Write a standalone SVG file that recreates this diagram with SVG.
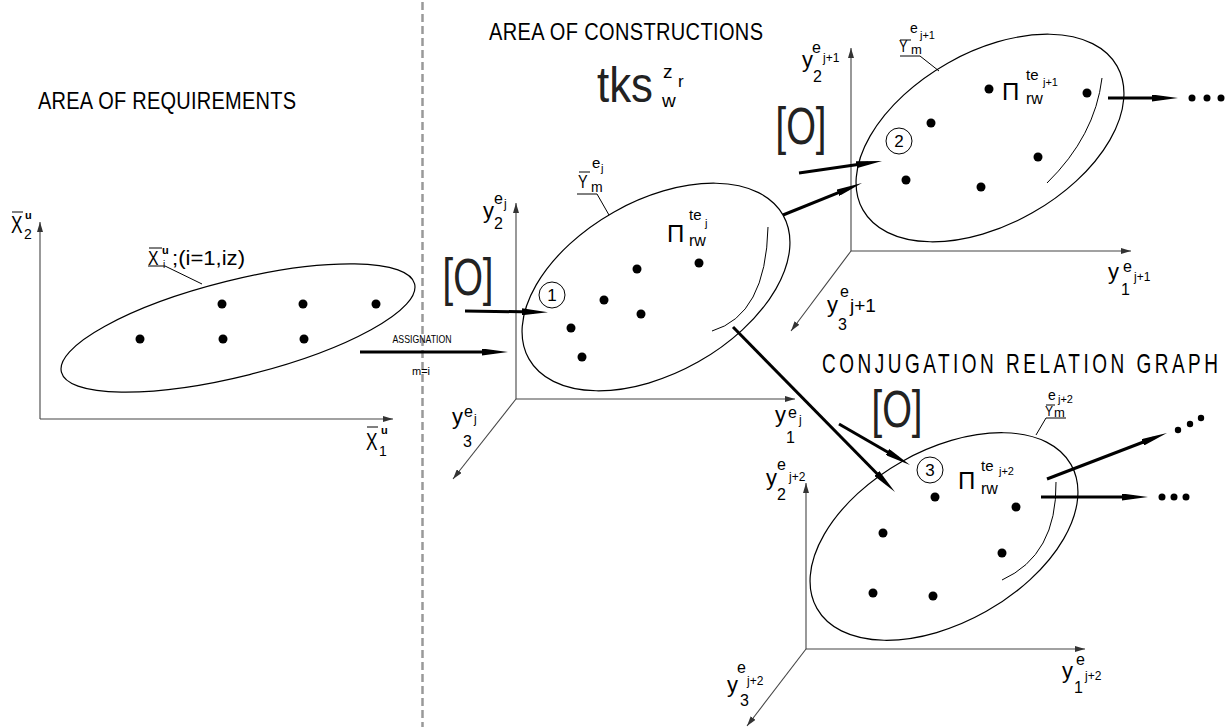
<svg xmlns="http://www.w3.org/2000/svg" width="1229" height="727" viewBox="0 0 1229 727">
<style>
.ax{stroke:#444;stroke-width:1.1;fill:none}
.el{stroke:#000;stroke-width:1.2;fill:none}
.ln{stroke:#000;stroke-width:1;fill:none}
.th{stroke:#000;stroke-width:3;fill:none}
.dot{fill:#000}
.t{font-family:"Liberation Sans",Arial,sans-serif;fill:#000}
.ol{font-family:"Liberation Sans",Arial,sans-serif;fill:#222}
.big{font-size:22px}
.sup{font-size:16px}
.sm{font-size:12px}
.ttl{font-size:20px}
</style>
<defs>
<marker id="ah" viewBox="0 0 10 6" refX="10" refY="3" markerWidth="10" markerHeight="6" markerUnits="userSpaceOnUse" orient="auto"><path d="M0,0L10,3L0,6z" fill="#333"/></marker>
<marker id="bh" viewBox="0 0 26 7" refX="12" refY="3.5" markerWidth="26" markerHeight="7" markerUnits="userSpaceOnUse" orient="auto"><path d="M0,0L26,3.5L0,7z" fill="#000"/></marker>
</defs>
<rect width="1229" height="727" fill="#fff"/>
<line x1="422.5" y1="2" x2="422.5" y2="727" stroke="#999" stroke-width="2.5" stroke-dasharray="8,4"/>

<text class="t ttl" transform="translate(38,109) scale(1,1.22)" textLength="258" lengthAdjust="spacing">AREA OF REQUIREMENTS</text>
<text class="t ttl" transform="translate(489,40) scale(1,1.2)" textLength="274" lengthAdjust="spacing">AREA OF CONSTRUCTIONS</text>
<text class="t" transform="translate(822,373) scale(1,1.45)" font-size="19" textLength="396" lengthAdjust="spacing">CONJUGATION RELATION GRAPH</text>
<g id="tks">
<text class="ol" x="597" y="102" font-size="50" textLength="56" lengthAdjust="spacingAndGlyphs">tks</text>
<text class="t" x="663" y="78" font-size="19">z</text>
<text class="t" x="678" y="87" font-size="17">r</text>
<text class="t" x="662" y="107" font-size="19">w</text>
</g>

<g id="req">
<path class="ax" d="M40,419V222" marker-end="url(#ah)"/>
<path class="ax" d="M40,419H393" marker-end="url(#ah)"/>
<line class="ln" x1="12" y1="212" x2="23" y2="212"/>
<text class="t" transform="translate(11,233) scale(0.72,1)" font-size="24">X</text>
<text class="t" x="24" y="239" font-size="14">2</text>
<text class="t" x="25" y="219" font-size="11" font-weight="bold">u</text>
<line class="ln" x1="367" y1="427" x2="378" y2="427"/>
<text class="t" transform="translate(366,450) scale(0.72,1)" font-size="24">X</text>
<text class="t" x="379" y="456" font-size="14">1</text>
<text class="t" x="381" y="434" font-size="11" font-weight="bold">u</text>
<ellipse class="el" cx="238" cy="328" rx="182" ry="48" transform="rotate(-14 238 328)"/>
<circle class="dot" cx="222" cy="304" r="4.5"/><circle class="dot" cx="303" cy="304" r="4.5"/><circle class="dot" cx="376" cy="304" r="4.5"/>
<circle class="dot" cx="140" cy="339" r="4.5"/><circle class="dot" cx="223" cy="339" r="4.5"/><circle class="dot" cx="304" cy="339" r="4.5"/>
<line class="ln" x1="149" y1="248" x2="162" y2="248"/>
<text class="t" transform="translate(148,265) scale(0.75,1)" font-size="21">X</text>
<text class="t" x="163" y="268" font-size="10">i</text>
<text class="t" x="162" y="254" font-size="11" font-weight="bold">u</text>
<text class="t" x="172" y="265" font-size="20" textLength="73" lengthAdjust="spacingAndGlyphs">;(i=1,iz)</text>
<path class="ln" d="M148,266H165L202,284"/>
</g>

<g id="sysj">
<path class="ax" d="M516,399V203" marker-end="url(#ah)"/>
<path class="ax" d="M516,399H795" marker-end="url(#ah)"/>
<path class="ax" d="M516,399L453,479" marker-end="url(#ah)"/>
<text class="t big" x="483" y="218">y</text><text class="t sup" x="494" y="204">e</text><text class="t sm" x="504" y="208">j</text><text class="t sup" x="494" y="229">2</text>
<text class="t big" x="775" y="422">y</text><text class="t sup" x="788" y="418">e</text><text class="t sm" x="799" y="424">j</text><text class="t sup" x="786" y="443">1</text>
<text class="t big" x="452" y="424">y</text><text class="t sup" x="464" y="417">e</text><text class="t sm" x="474" y="423">j</text><text class="t sup" x="463" y="447">3</text>
<ellipse class="el" cx="656" cy="287" rx="146" ry="86" transform="rotate(-29.5 656 287)"/>
<path class="ln" d="M768,227Q766,315 712,331"/>
<circle class="dot" cx="637" cy="269" r="4.5"/><circle class="dot" cx="699" cy="263" r="4.5"/><circle class="dot" cx="604" cy="300" r="4.5"/>
<circle class="dot" cx="641" cy="314" r="4.5"/><circle class="dot" cx="571" cy="328" r="4.5"/><circle class="dot" cx="582" cy="357" r="4.5"/>
<circle class="ln" cx="552" cy="295" r="13"/>
<text class="t" x="552" y="301" font-size="17" text-anchor="middle">1</text>
<text class="t" x="667" y="242" font-size="24">Π</text><text class="t" x="689" y="220" font-size="15">te</text><text class="t" x="705" y="227" font-size="11">j</text><text class="t" x="689" y="246" font-size="16">rw</text>
<line class="ln" x1="579" y1="172" x2="590" y2="172"/>
<text class="t" transform="translate(578,188) scale(0.8,1)" font-size="18">Y</text><text class="t" x="591" y="192" font-size="14">m</text><text class="t" x="592" y="168" font-size="15">e</text><text class="t" x="601" y="172" font-size="11">j</text>
<path class="ln" d="M577,194H597L609,215"/>
<text class="ol" x="468" y="295" font-size="52" text-anchor="middle" textLength="51" lengthAdjust="spacingAndGlyphs">[O]</text>
</g>

<g id="sysj1">
<path class="ax" d="M851,251V48" marker-end="url(#ah)"/>
<path class="ax" d="M851,251H1131" marker-end="url(#ah)"/>
<path class="ax" d="M851,251L791,331" marker-end="url(#ah)"/>
<text class="t big" x="802" y="67">y</text><text class="t sup" x="812" y="53">e</text><text class="t sm" x="823" y="62">j+1</text><text class="t sup" x="813" y="82">2</text>
<text class="t big" x="1108" y="279">y</text><text class="t sup" x="1123" y="272">e</text><text class="t sm" x="1134" y="281">j+1</text><text class="t sup" x="1121" y="295">1</text>
<text class="t big" x="827" y="312">y</text><text class="t sup" x="840" y="297">e</text><text class="t" x="850" y="312" font-size="19">j+1</text><text class="t sup" x="838" y="330">3</text>
<ellipse class="el" cx="990" cy="138" rx="146" ry="86" transform="rotate(-29.5 990 138)"/>
<path class="ln" d="M1102,78Q1095,136 1047,183"/>
<circle class="dot" cx="989" cy="89" r="4.5"/><circle class="dot" cx="1087" cy="93" r="4.5"/><circle class="dot" cx="931" cy="123" r="4.5"/>
<circle class="dot" cx="1038" cy="157" r="4.5"/><circle class="dot" cx="906" cy="180" r="4.5"/><circle class="dot" cx="981" cy="187" r="4.5"/>
<circle class="ln" cx="899" cy="141" r="13"/>
<text class="t" x="899" y="147" font-size="17" text-anchor="middle">2</text>
<text class="t" x="1002" y="100" font-size="24">Π</text><text class="t" x="1026" y="80" font-size="15">te</text><text class="t" x="1043" y="86" font-size="11">j+1</text><text class="t" x="1026" y="104" font-size="16">rw</text>
<line class="ln" x1="900" y1="40" x2="911" y2="40"/>
<text class="t" transform="translate(899,52) scale(0.8,1)" font-size="16">Y</text><text class="t" x="911" y="54" font-size="13">m</text><text class="t" x="910" y="33" font-size="14">e</text><text class="t" x="920" y="39" font-size="11">j+1</text>
<path class="ln" d="M900,56H920L939,71"/>
<text class="ol" x="801" y="144" font-size="52" text-anchor="middle" textLength="51" lengthAdjust="spacingAndGlyphs">[O]</text>
<circle class="dot" cx="1192" cy="98" r="3.5"/><circle class="dot" cx="1207" cy="98" r="3.5"/><circle class="dot" cx="1221" cy="98" r="3.5"/>
</g>

<g id="sysj2">
<path class="ax" d="M806,649V483" marker-end="url(#ah)"/>
<path class="ax" d="M806,649H1085" marker-end="url(#ah)"/>
<path class="ax" d="M806,649L747,726" marker-end="url(#ah)"/>
<text class="t big" x="766" y="485">y</text><text class="t sup" x="777" y="470">e</text><text class="t sm" x="789" y="481">j+2</text><text class="t sup" x="777" y="500">2</text>
<text class="t big" x="1062" y="678">y</text><text class="t sup" x="1076" y="665">e</text><text class="t sm" x="1085" y="680">j+2</text><text class="t sup" x="1074" y="693">1</text>
<text class="t big" x="727" y="692">y</text><text class="t sup" x="737" y="673">e</text><text class="t sm" x="747" y="685">j+2</text><text class="t sup" x="740" y="706">3</text>
<ellipse class="el" cx="944" cy="536.5" rx="146" ry="86" transform="rotate(-29.5 944 536.5)"/>
<path class="ln" d="M1056,482Q1057,555 1002,580"/>
<circle class="dot" cx="935" cy="497" r="4.5"/><circle class="dot" cx="1016" cy="507" r="4.5"/><circle class="dot" cx="883" cy="533" r="4.5"/>
<circle class="dot" cx="1002" cy="553" r="4.5"/><circle class="dot" cx="873" cy="593" r="4.5"/><circle class="dot" cx="933" cy="596" r="4.5"/>
<circle class="ln" cx="930" cy="470" r="13"/>
<text class="t" x="930" y="476" font-size="17" text-anchor="middle">3</text>
<text class="t" x="958" y="489" font-size="24">Π</text><text class="t" x="981" y="471" font-size="15">te</text><text class="t" x="999" y="475" font-size="11">j+2</text><text class="t" x="981" y="494" font-size="16">rw</text>
<line class="ln" x1="1046" y1="405" x2="1055" y2="405"/>
<text class="t" transform="translate(1045,416) scale(0.8,1)" font-size="15">Y</text><text class="t" x="1054" y="417" font-size="13">m</text><text class="t" x="1048" y="400" font-size="14">e</text><text class="t" x="1058" y="403" font-size="11">j+2</text>
<path class="ln" d="M1066,418H1046L1036,435"/>
<text class="ol" x="897" y="427" font-size="52" text-anchor="middle" textLength="51" lengthAdjust="spacingAndGlyphs">[O]</text>
<circle class="dot" cx="1178" cy="430" r="3.2"/><circle class="dot" cx="1190" cy="424" r="3.2"/><circle class="dot" cx="1201" cy="418" r="3.2"/>
<circle class="dot" cx="1162" cy="497" r="3.5"/><circle class="dot" cx="1174" cy="497" r="3.5"/><circle class="dot" cx="1186" cy="497" r="3.5"/>
</g>

<g id="connectors">
<path class="th" d="M360,352H494" stroke-width="2.5" marker-end="url(#bh)"/>
<text class="t" x="422" y="343" font-size="11" text-anchor="middle" textLength="59" lengthAdjust="spacingAndGlyphs">ASSIGNATION</text>
<text class="t" x="421" y="375" font-size="11" text-anchor="middle">m=i</text>
<path class="th" d="M465,311L534,312" stroke-width="3.5" marker-end="url(#bh)"/>
<path class="th" d="M783,215L849,188.3" marker-end="url(#bh)"/>
<path class="th" d="M799,173L868.2,163" marker-end="url(#bh)"/>
<path class="th" d="M1108,98H1164" marker-end="url(#bh)"/>
<path class="th" d="M733,327L885.2,482" marker-end="url(#bh)"/>
<path class="th" d="M839,424L897.9,458" marker-end="url(#bh)"/>
<path class="th" d="M1047,479L1153.9,438" marker-end="url(#bh)"/>
<path class="th" d="M1041,497H1134" marker-end="url(#bh)"/>
</g>
</svg>
